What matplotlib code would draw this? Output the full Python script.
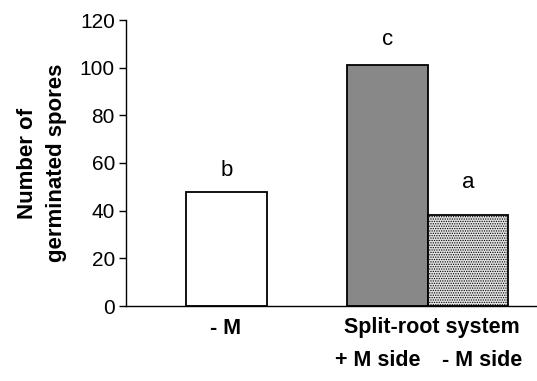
import matplotlib
matplotlib.use("Agg")
import matplotlib.pyplot as plt

plt.rcParams['font.family'] = ['Liberation Sans', 'DejaVu Sans']
plt.rcParams['hatch.color'] = '#7a7a7a'
plt.rcParams['hatch.linewidth'] = 0.6

positions = [0, 2, 3]
values = [48, 101, 38]
letters = ['b', 'c', 'a']
letter_heights = [57, 112, 52]
colors = ['white', '#888888', '#e2e2e2']
hatches = [None, None, '.......']
yticks = [0, 20, 40, 60, 80, 100, 120]

fig = plt.figure(figsize=(5.37, 3.81), dpi=100)
ax = fig.add_axes([126/537, 75/381, 411/537, 286/381])

for x, v, c, h, l, lh in zip(positions, values, colors, hatches, letters, letter_heights):
    ax.bar(x, v, width=1.0, color=c, edgecolor='black', linewidth=1.3, hatch=h, zorder=2)
    ax.text(x, lh, l, ha='center', va='center', fontsize=16)

ax.set_xlim(-1.25, 3.86)
ax.set_ylim(0, 120)
ax.set_yticks(yticks)
ax.tick_params(axis='y', labelsize=15, length=5, width=1, direction='out', pad=3)
ax.set_xticks([])
for s in ['top', 'right']:
    ax.spines[s].set_visible(False)
ax.spines['left'].set_linewidth(1)
ax.spines['bottom'].set_linewidth(1)

ax.set_ylabel('Number of\ngerminated spores', fontsize=16, fontweight='bold',
              va='center', ha='center', linespacing=1.5)
ax.yaxis.set_label_coords(-0.204, 0.5)

fs = 15.5
fig.text(226/537, 1 - 328/381, '- M', ha='center', va='center', fontsize=fs, fontweight='bold')
fig.text(432/537, 1 - 328/381, 'Split-root system', ha='center', va='center', fontsize=fs, fontweight='bold')
fig.text(378/537, 1 - 360/381, '+ M side', ha='center', va='center', fontsize=fs, fontweight='bold')
fig.text(482/537, 1 - 360/381, '- M side', ha='center', va='center', fontsize=fs, fontweight='bold')

fig.savefig('out.png', dpi=100)
